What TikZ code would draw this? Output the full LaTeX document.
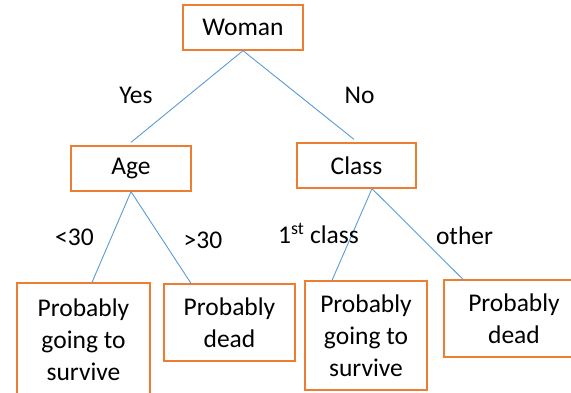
\documentclass[tikz,border=0pt]{standalone}
\usepackage{fontspec}
\setmainfont{Carlito}
\usetikzlibrary{positioning}
\definecolor{boxorange}{RGB}{237,125,49}
\definecolor{lineblue}{RGB}{91,155,213}

\begin{document}
\begin{tikzpicture}[x=1pt, y=-1pt,
  box/.style={draw=boxorange, line width=1.3pt, fill=white, align=center, inner sep=0pt,
    font=\fontsize{25.5}{32}\selectfont},
  branch/.style={draw=lineblue, line width=0.9pt},
  lbl/.style={inner sep=0pt, font=\fontsize{25.5}{32}\selectfont}]
\useasboundingbox (0,0) rectangle (571,392);

% Question boxes
\node[box, minimum width=120pt, minimum height=45pt] (woman) at (243,27.5) {Woman};
\node[box, minimum width=120pt, minimum height=45pt] (age) at (131,168.5) {Age};
\node[box, minimum width=119pt, minimum height=45pt] (class) at (356.5,165.5) {Class};

% Leaves
\node[box, minimum width=133pt, minimum height=114pt] (surv1) at (83.5,340) {Probably\\going to\\survive};
\node[box, minimum width=131pt, minimum height=77pt] (dead1) at (229.5,322.5) {Probably\\dead};
\node[box, minimum width=122pt, minimum height=109pt] (surv2) at (366,335.5) {Probably\\going to\\survive};
\node[box, minimum width=140pt, minimum height=77pt] (dead2) at (514,318.5) {Probably\\dead};

% Branches
\draw[branch] (woman.south) -- ([yshift=3pt]age.north);
\draw[branch] (woman.south) -- ([xshift=-2.5pt,yshift=3pt]class.north);
\draw[branch] (age.south) -- ([xshift=8.5pt]surv1.north);
\draw[branch] (age.south) -- ([xshift=-38.5pt]dead1.north);
\draw[branch] ([xshift=15.5pt]class.south) -- ([xshift=-34pt]surv2.north);
\draw[branch] ([xshift=15.5pt]class.south) -- ([xshift=-51pt]dead2.north);

% Branch labels
\node[lbl] (yes) at (136,95) {Yes};
\node[lbl] (no) at (359.5,95) {No};
\node[lbl] (young) at (74.5,237) {<30};
\node[lbl] (old) at (203,240) {>30};
\node[lbl] (first) at (318.5,233) {1\textsuperscript{st} class};
\node[lbl] (other) at (464.5,236) {other};

\end{tikzpicture}
\end{document}
